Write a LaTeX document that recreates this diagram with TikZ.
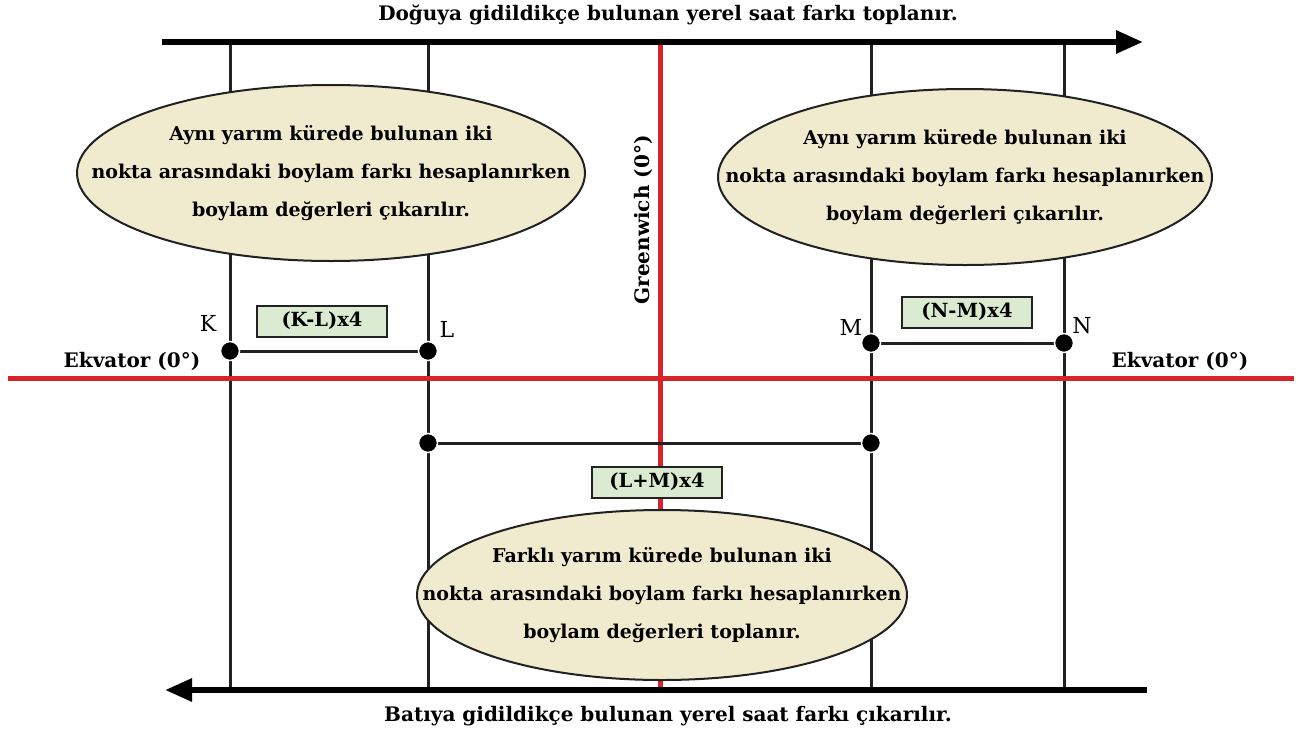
\documentclass[tikz,border=0pt]{standalone}
\usepackage{fontspec}
\setmainfont{DejaVu Serif}
\usepackage{xcolor}
\definecolor{ekvred}{rgb}{0.84,0.14,0.17}
\definecolor{cream}{rgb}{0.94,0.92,0.81}
\definecolor{boxgreen}{rgb}{0.86,0.92,0.82}
\definecolor{darkgrey}{rgb}{0.13,0.13,0.13}
\usepackage{tikz}
\usetikzlibrary{arrows.meta, shapes.geometric}
\tikzset{
    meridian/.style={line width=3pt, darkgrey},
    redline/.style={line width=5pt, ekvred},
    bigarrow/.style={line width=6pt, black, -{Triangle[length=27pt, width=22pt]}},
    dot/.style={circle, fill=black, draw=white, line width=1.5pt, inner sep=0pt, minimum size=19pt},
    bubble/.style={ellipse, draw=darkgrey, line width=2pt, fill=cream, inner sep=0pt},
    bubtext/.style={align=center, font=\bfseries\fontsize{19}{38}\selectfont},
    difbox/.style={draw=darkgrey, line width=2pt, fill=boxgreen, minimum width=130pt,
        minimum height=31pt, inner sep=0pt, font=\bfseries\fontsize{19.5}{22}\selectfont},
    ptlabel/.style={font=\fontsize{22}{26}\selectfont},
    bold/.style={font=\bfseries\fontsize{20}{24}\selectfont}
}
\begin{document}
\begin{tikzpicture}
    [x=1pt, y=-1pt]
    \useasboundingbox (0,0) rectangle (1298,731);
    % points
    \node[dot] (K) at (230,351) {};
    \node[dot] (L) at (428,351) {};
    \node[dot] (M) at (871,343) {};
    \node[dot] (N) at (1064,343) {};
    \node[dot] (Lb) at (428,443) {};
    \node[dot] (Mb) at (871,443) {};
    \coordinate (Ktop) at (230,42);   \coordinate (Kbot) at (230,690);
    \coordinate (Ltop) at (428,42);   \coordinate (Lbot) at (428,690);
    \coordinate (Mtop) at (871,42);   \coordinate (Mbot) at (871,690);
    \coordinate (Ntop) at (1064,42);  \coordinate (Nbot) at (1064,690);
    % meridians
    \draw[meridian] (Ktop) -- (K) -- (Kbot);
    \draw[meridian] (Ltop) -- (L) -- (Lb) -- (Lbot);
    \draw[meridian] (Mtop) -- (M) -- (Mb) -- (Mbot);
    \draw[meridian] (Ntop) -- (N) -- (Nbot);
    \draw[redline] (660,45) -- (660,690);
    \draw[redline] (8,378) -- (1294,378);
    % differences
    \draw[meridian] (K) -- (L);
    \draw[meridian] (M) -- (N);
    \draw[meridian] (Lb) -- (Mb);
    \node[dot] at (K) {};
    \node[dot] at (L) {};
    \node[dot] at (M) {};
    \node[dot] at (N) {};
    \node[dot] at (Lb) {};
    \node[dot] at (Mb) {};
    % bubbles
    \node[bubble, minimum width=508pt, minimum height=176pt] (same1) at (331,173) {};
    \node[bubtext] at (same1) {Aynı yarım kürede bulunan iki\\nokta arasındaki boylam farkı hesaplanırken\\boylam değerleri çıkarılır.};
    \node[bubble, minimum width=494pt, minimum height=176pt] (same2) at (965,177) {};
    \node[bubtext] at (same2) {Aynı yarım kürede bulunan iki\\nokta arasındaki boylam farkı hesaplanırken\\boylam değerleri çıkarılır.};
    \node[bubble, minimum width=490pt, minimum height=170pt] (diff) at (662,595) {};
    \node[bubtext] at (diff) {Farklı yarım kürede bulunan iki\\nokta arasındaki boylam farkı hesaplanırken\\boylam değerleri toplanır.};
    % arrows
    \draw[bigarrow] (162,42) -- (1143,42);
    \draw[bigarrow] (1147,690) -- (165,690);
    % boxes
    \node[difbox] (KL) at (322,321) {(K-L)x4};
    \node[difbox] (NM) at (967,312) {(N-M)x4};
    \node[difbox] (LM) at (657,482) {(L+M)x4};
    % text
    \node[ptlabel] at (208,323) {K};
    \node[ptlabel] at (447,329) {L};
    \node[ptlabel] at (851,327) {M};
    \node[ptlabel] at (1082,326) {N};
    \node[bold] at (668,15) {Doğuya gidildikçe bulunan yerel saat farkı toplanır.};
    \node[bold] at (668,716) {Batıya gidildikçe bulunan yerel saat farkı çıkarılır.};
    \node[bold] at (132,361) {Ekvator (0°)};
    \node[bold] at (1180,361) {Ekvator (0°)};
    \node[bold, rotate=90] at (643,220) {Greenwich (0°)};
\end{tikzpicture}
\end{document}
